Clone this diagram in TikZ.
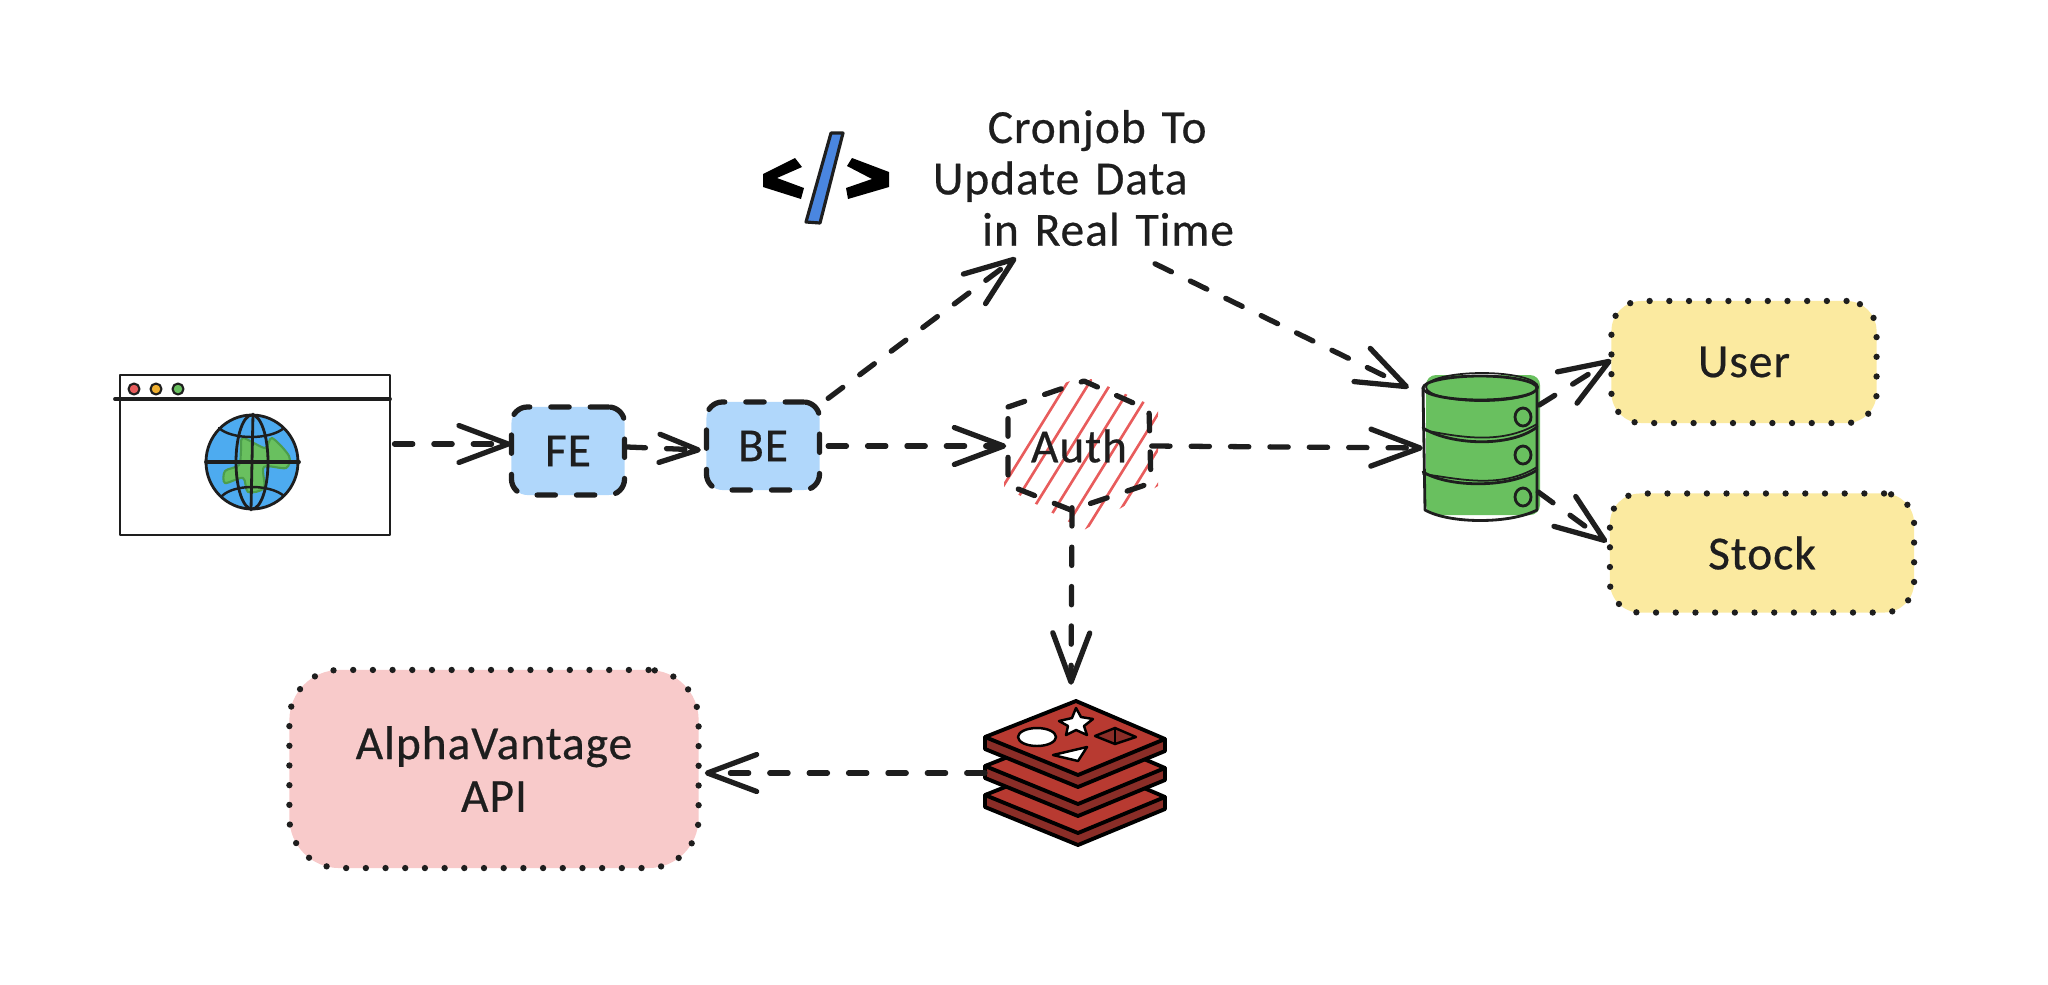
\documentclass[tikz,border=0pt]{standalone}
\usepackage{fontspec}
\setmainfont{Carlito}[FakeBold=0.5, LetterSpace=2]
\usetikzlibrary{arrows.meta}
\definecolor{ink}{HTML}{1E1E1E}
\definecolor{bluefill}{HTML}{B0D7FB}
\definecolor{yellowfill}{HTML}{FBEAA0}
\definecolor{pinkfill}{HTML}{F8CACA}
\definecolor{greenfill}{HTML}{69C05F}
\definecolor{oceanfill}{HTML}{4DABF0}
\definecolor{hatchred}{HTML}{E85C5C}
\definecolor{amberdot}{HTML}{F0B030}
\definecolor{redisred}{HTML}{B83A31}
\definecolor{redisdark}{HTML}{8A2D27}
\definecolor{codeblue}{HTML}{4A86E0}
\begin{document}
\begin{tikzpicture}[x=0.01cm, y=-0.01cm, line cap=round, line join=round, color=ink, text=ink, font=\fontsize{13.5}{14}\selectfont]
	\tikzset{
		flow/.style={dash pattern=on 5.2pt off 6pt, line width=1.5pt, -{Straight Barb[length=14pt, width=10.5pt, round]}},
		flowsmall/.style={flow, -{Straight Barb[length=11pt, width=8pt, round]}},
		bluebox/.style={fill=bluefill, draw, dash pattern=on 5.2pt off 6pt, line width=1.5pt, rounded corners=1.6mm, minimum width=1.13cm, minimum height=0.88cm},
		dotbox/.style={draw, dash pattern=on 0pt off 5.6pt, line width=1.8pt, rounded corners=3mm, inner sep=0pt},
		globepic/.pic={
			\fill[oceanfill] (0,0) ellipse (46 and 47);
			\fill[greenfill, draw=green!45!black!70, line width=0.6pt] plot[smooth cycle] coordinates {(-9,-24) (13,-14) (20,-24) (37,-6) (34,6) (12,5) (12,26) (-4,30) (-9,16) (-27,21) (-27,9) (-13,3) (-11,-12)};
			\draw[line width=0.8pt] (0,0) ellipse (46 and 47);
			\draw[line width=0.8pt] (0,0) ellipse (16 and 47);
			\draw[line width=0.8pt] (1,-48) -- (-1,48);
			\draw[line width=1.1pt] (-46,0) -- (47,0);
			\draw[line width=0.7pt] (-33,-34) .. controls (-20,-22) and (18,-22) .. (32,-34);
			\draw[line width=0.7pt] (-30,34) .. controls (-18,22) and (18,22) .. (32,34);
		},
		redislayer/.pic={
			\fill[redisdark] (-91,-1) -- (-91,11) -- (2,49) -- (89,13) -- (89,1) -- (2,37) -- cycle;
			\fill[redisred] (0,-37) -- (89,1) -- (2,37) -- (-91,-1) -- cycle;
			\draw[black, line width=1.1pt] (0,-37) -- (89,1) -- (2,37) -- (-91,-1) -- cycle;
			\draw[black, line width=1.1pt] (-91,-1) -- (-91,11) -- (2,49) -- (89,13) -- (89,1);
		}
	}
	\useasboundingbox (0,0) rectangle (2048,984);

	% browser window
	\node[draw, line width=0.8pt, minimum width=2.7cm, minimum height=1.6cm] (browser) at (255,455) {};
	\draw[line width=1.1pt] (115,399) -- (390,399);
	\foreach \x/\c in {134/hatchred, 156/amberdot, 178/greenfill} {
		\draw[fill=\c, line width=0.6pt] (\x,389) ellipse (5.5 and 5.5);
	}
	\path (252,462) pic {globepic};

	% boxes
	\node[bluebox] (fe) at (568,451) {FE};
	\node[bluebox] (be) at (763,446) {BE};
	\node[dotbox, fill=yellowfill, minimum width=2.65cm, minimum height=1.22cm] (user) at (1744,362) {User};
	\node[dotbox, fill=yellowfill, minimum width=3.04cm, minimum height=1.19cm] (stock) at (1762,553) {Stock};
	\node[dotbox, fill=pinkfill, rounded corners=5mm, align=center, minimum width=4.09cm, minimum height=1.98cm] (api) at (494,769) {AlphaVantage\\[1pt]API};

	% auth hexagon
	\begin{scope}
		\clip (1004,405) -- (1084,376) -- (1158,408) -- (1158,486) -- (1084,530) -- (1004,487) -- cycle;
		\foreach \x in {976,998,...,1216} {
			\draw[hatchred, line width=0.75pt] (\x,530) -- (\x+93,380);
		}
	\end{scope}
	\draw[dash pattern=on 5pt off 6pt, line width=1.5pt] (1008,407) -- (1084,381) -- (1149,410) -- (1151,483) -- (1071,510) -- (1008,485) -- cycle;
	\node[minimum width=1.44cm, minimum height=1.28cm, inner sep=0pt] (auth) at (1079,446) {Auth};

	% database
	\node[minimum width=1.15cm, minimum height=1.45cm, inner sep=0pt] (db) at (1480,448) {};
	\fill[greenfill, rounded corners=1mm] (1426,375) rectangle (1540,515);
	\draw[line width=0.8pt] (1480,388) ellipse (57 and 12);
	\draw[line width=0.5pt] (1482,387) ellipse (56 and 14);
	\draw[line width=0.8pt] (1423,388) -- (1425,510) .. controls (1450,524) and (1510,524) .. (1537,510) -- (1537,388);
	\draw[line width=0.8pt] (1423,428) .. controls (1450,445) and (1510,448) .. (1537,427);
	\draw[line width=0.5pt] (1423,430) .. controls (1455,436) and (1500,446) .. (1537,424);
	\draw[line width=0.8pt] (1423,472) .. controls (1450,488) and (1510,488) .. (1537,470);
	\draw[line width=0.5pt] (1423,474) .. controls (1455,478) and (1500,490) .. (1537,467);
	\foreach \y in {417,455,497} {
		\draw[line width=0.8pt] (1523,\y) ellipse (8 and 9);
	}

	% redis stack
	\foreach \y in {796,767,738} {
		\path (1076,\y) pic {redislayer};
	}
	\fill[white, draw=black, line width=0.7pt] (1037,737) ellipse (19 and 9);
	\fill[white, draw=black, line width=0.7pt] (1076,708) -- (1081,717) -- (1093,719) -- (1084,726) -- (1087,735) -- (1076,730) -- (1066,735) -- (1068,726) -- (1059,721) -- (1072,718) -- cycle;
	\fill[white, draw=black, line width=0.7pt] (1053,755) -- (1087,747) -- (1078,761) -- cycle;
	\fill[redisdark, draw=black, line width=0.7pt] (1095,736) -- (1115,728) -- (1136,737) -- (1115,744) -- cycle;
	\draw[black, line width=0.7pt] (1115,728) -- (1115,744);

	% code icon
	\fill[black] (795,158) -- (802,167) -- (777,178) -- (804,188) -- (801,199) -- (763,187) -- (763,174) -- cycle;
	\fill[black] (852,158) -- (889,172) -- (889,187) -- (848,199) -- (846,188) -- (872,179) -- (847,166) -- cycle;
	\draw[fill=codeblue, line width=0.9pt] (831,133) -- (843,133) -- (820,223) -- (806,222) -- cycle;

	% cronjob text
	\node[align=left, text width=3.02cm, minimum height=1.56cm, inner sep=0pt, font=\fontsize{13.5}{14.6}\selectfont] (cron) at (1084,178) {\hspace*{15.6pt}Cronjob To\\Update Data\\\hspace*{14pt}in Real Time};

	% connectors
	\draw[flow] ([shift={(3,-11)}]browser.east) -- ([shift={(2,-7)}]fe.west);
	\draw[flowsmall] ([shift={(0,-4)}]fe.east) -- ([shift={(-3,4)}]be.west);
	\draw[flow] (be.east) ++(6,0) -- (auth.west);
	\draw[flow] ([shift={(6,-1)}]be.north east) -- ([shift={(-68,1)}]cron.south);
	\draw[flow] ([shift={(71,7)}]cron.south) -- ([shift={(-13,13)}]db.north west);
	\draw[flow] (auth.east) -- ([shift={(1,0)}]db.west);
	\draw[flow] ([shift={(-7,-3)}]auth.south) -- ([shift={(-8,174)}]auth.south);
	\draw[flow] ([shift={(1,-43)}]db.east) -- ([shift={(3,-2)}]user.west);
	\draw[flow] ([shift={(0,44)}]db.east) -- ([shift={(0,-11)}]stock.west);
	\draw[flow] (985,773) -- ([shift={(3,4)}]api.east);
\end{tikzpicture}
\end{document}
